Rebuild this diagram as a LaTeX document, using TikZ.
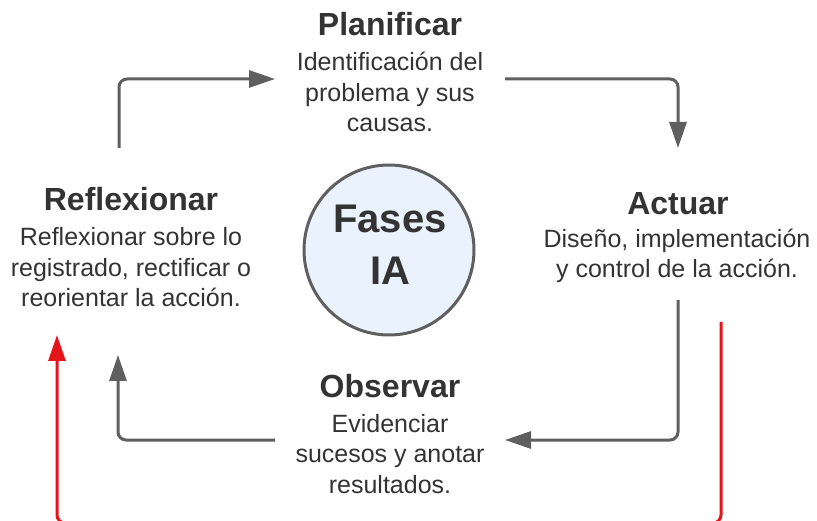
\documentclass[tikz,border=0pt]{standalone}
\usepackage{fontspec}
\setmainfont{Liberation Sans}
\usetikzlibrary{arrows.meta}
\definecolor{txt}{HTML}{333333}
\definecolor{ln}{HTML}{5F5F5F}
\definecolor{circfill}{HTML}{EAF2FD}
\definecolor{redl}{HTML}{E5161B}
\begin{document}
\begin{tikzpicture}[x=1pt,y=-1pt,
 title/.style={font=\fontsize{32}{36}\selectfont\bfseries, text=txt, anchor=base, inner sep=0pt},
 body/.style={font=\fontsize{25}{30.5}\selectfont, text=txt, align=center, anchor=base, inner sep=0pt},
 flow/.style={draw=ln, line width=3pt, rounded corners=8pt, -{Triangle[length=26pt,width=17pt]}},
 back/.style={draw=redl, line width=3pt, rounded corners=8pt, -{Triangle[length=26pt,width=17pt]}}]
\useasboundingbox (0,0) rectangle (817,521);
\clip (0,0) rectangle (817,521);
% center
\node[circle, draw=ln, line width=3pt, fill=circfill, minimum size=170pt, inner sep=0pt] (center) at (389,250) {};
\node[font=\fontsize{40}{52}\selectfont\bfseries, text=txt, align=center, anchor=base, inner sep=0pt] (centertxt) at (390,285) {Fases\\IA};
% Planificar
\node[title] (plan) at (390,36) {Planificar};
\node[body] (planb) at (390,132) {Identificación del\\problema y sus\\causas.};
% Actuar
\node[title] (act) at (678,215) {Actuar};
\node[body] (actb) at (677,278) {Diseño, implementación\\y control de la acción.};
% Reflexionar
\node[title] (refl) at (131,211) {Reflexionar};
\node[body] (reflb) at (131,307) {Reflexionar sobre lo\\registrado, rectificar o\\reorientar la acción.};
% Observar
\node[title] (obs) at (390,397) {Observar};
\node[body] (obsb) at (390,493) {Evidenciar\\sucesos y anotar\\resultados.};
% connector endpoints
\coordinate (a1s) at (119,148); \coordinate (a1e) at (275,79);
\coordinate (a2s) at (505,79);  \coordinate (a2e) at (678,148);
\coordinate (a3s) at (678,300); \coordinate (a3e) at (505,440);
\coordinate (a4s) at (275,440); \coordinate (a4e) at (118,355);
\coordinate (rs) at (721,322);  \coordinate (re) at (57,335);
\draw[flow] (a1s) |- (a1e);
\draw[flow] (a2s) -| (a2e);
\draw[flow] (a3s) |- (a3e);
\draw[flow] (a4s) -| (a4e);
\draw[back] (rs) -- (721,523) -- (57,523) -- (re);
\end{tikzpicture}
\end{document}
